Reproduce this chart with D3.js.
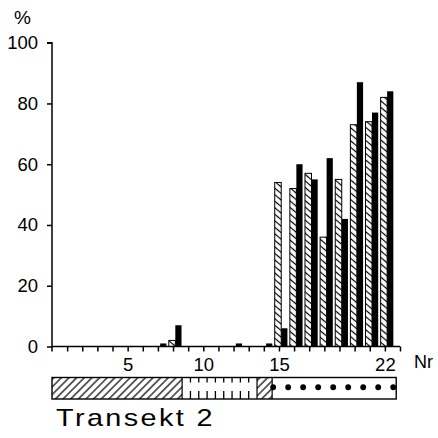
<!DOCTYPE html>
<html>
<head>
<meta charset="utf-8">
<script src="https://cdn.jsdelivr.net/npm/d3@7"></script>
<style>
  html, body { margin: 0; padding: 0; background: #fff; }
  svg { display: block; }
  text { font-family: "Liberation Sans", Arial, sans-serif; fill: #000; }
</style>
</head>
<body>
<svg id="chart" width="438" height="438"></svg>
<script>
// Station numbers along the transect
const stations = d3.range(1, 23);
// Percent values per station: hatched series and solid series
const hatchedValues = [0, 0, 0, 0, 0, 0, 0, 2, 0, 0, 0, 0, 0, 0, 54, 52, 57, 36, 55, 73, 74, 82];
const solidValues   = [0, 0, 0, 0, 0, 0, 1, 7, 0, 0, 0, 1, 0, 1, 6, 60, 55, 62, 42, 87, 77, 84];
// Axis tick labels
const yTicks = [0, 20, 40, 60, 80, 100];
const xTickLabels = [5, 10, 15, 22];
// Zones of the transect strip (in station units)
const zoneStarts = [0, 8.6, 13.55, 14.55];
const zoneEnds   = [8.6, 13.55, 14.55, 22.75];
const zoneKinds  = ["hatch", "ruler", "hatch", "dots"];

const svg = d3.select("#chart");
const x = d3.scaleLinear().domain([0, 23]).range([52, 400]);
const y = d3.scaleLinear().domain([0, 100]).range([346.5, 42.7]);

const defs = svg.append("defs");
// Back-slash hatching for the bars
const pBar = defs.append("pattern")
  .attr("id", "barHatch").attr("patternUnits", "userSpaceOnUse")
  .attr("width", 6).attr("height", 5).attr("patternTransform", "rotate(40)");
pBar.append("rect").attr("width", 6).attr("height", 5).attr("fill", "#fff");
pBar.append("line").attr("x1", 0).attr("x2", 6).attr("y1", 2.5).attr("y2", 2.5)
  .attr("stroke", "#000").attr("stroke-width", 1.2);
// Forward-slash hatching for the strip
const pStrip = defs.append("pattern")
  .attr("id", "stripHatch").attr("patternUnits", "userSpaceOnUse")
  .attr("width", 8).attr("height", 5.4).attr("patternTransform", "rotate(-45)");
pStrip.append("rect").attr("width", 8).attr("height", 5.4).attr("fill", "#fff");
pStrip.append("line").attr("x1", 0).attr("x2", 8).attr("y1", 2.7).attr("y2", 2.7)
  .attr("stroke", "#000").attr("stroke-width", 1.2);

// Bars
const g = svg.append("g");
stations.forEach((n, i) => {
  const hv = hatchedValues[i], sv = solidValues[i];
  if (hv > 0) {
    g.append("rect")
      .attr("x", x(n - 0.28)).attr("width", x(n + 0.15) - x(n - 0.28))
      .attr("y", y(hv)).attr("height", y(0) - y(hv))
      .attr("fill", "url(#barHatch)").attr("stroke", "#000").attr("stroke-width", 1);
  }
  if (sv > 0) {
    g.append("rect")
      .attr("x", x(n + 0.15)).attr("width", x(n + 0.56) - x(n + 0.15))
      .attr("y", y(sv)).attr("height", y(0) - y(sv))
      .attr("fill", "#000");
  }
});

// Y axis
const yAxis = svg.append("g").attr("transform", `translate(${x(0)},0)`)
  .call(d3.axisLeft(y).tickValues(yTicks).tickSize(5).tickPadding(9).tickFormat(d3.format("d")));
yAxis.select(".domain").attr("d", `M-5,${y(100)}H0V${y(0) + 5}`).attr("stroke-width", 1.5);
yAxis.selectAll(".tick line").attr("stroke-width", 1.5);
yAxis.selectAll("text").attr("font-size", 18.5).attr("font-family", "Liberation Sans, Arial, sans-serif");

// X axis
const xAxis = svg.append("g").attr("transform", `translate(0,${y(0)})`)
  .call(d3.axisBottom(x).tickValues(d3.range(1, 24)).tickSize(5).tickPadding(6)
    .tickFormat(d => xTickLabels.includes(d) ? d : ""));
xAxis.select(".domain").attr("d", `M${x(0)},0H${x(23)}`).attr("stroke-width", 1.5);
xAxis.selectAll(".tick line").attr("stroke-width", 1.5);
xAxis.selectAll("text").attr("font-size", 18.5).attr("font-family", "Liberation Sans, Arial, sans-serif");

// Axis titles
svg.append("text").attr("x", 14).attr("y", 24).attr("font-size", 19).text("%");
svg.append("text").attr("x", 414).attr("y", 368).attr("font-size", 18).text("Nr");

// Transect strip
const stripTop = 377.5, stripH = 21.5;
const strip = svg.append("g");
zoneKinds.forEach((kind, i) => {
  const x0 = x(zoneStarts[i]), x1 = x(zoneEnds[i]);
  if (kind === "hatch") {
    strip.append("rect").attr("x", x0).attr("y", stripTop).attr("width", x1 - x0).attr("height", stripH)
      .attr("fill", "url(#stripHatch)");
  } else if (kind === "ruler") {
    const step = (x1 - x0) / 9;
    d3.range(1, 9).forEach(k => {
      const xx = x0 + step * k;
      strip.append("line").attr("x1", xx).attr("x2", xx).attr("y1", stripTop).attr("y2", stripTop + 5)
        .attr("stroke", "#000").attr("stroke-width", 1.3);
      strip.append("line").attr("x1", xx).attr("x2", xx).attr("y1", stripTop + stripH - 8).attr("y2", stripTop + stripH)
        .attr("stroke", "#000").attr("stroke-width", 1.3);
    });
  } else if (kind === "dots") {
    const n = 9, step = (x1 - x0 - 4) / (n - 1);
    d3.range(n).forEach(k => {
      strip.append("circle").attr("cx", x0 + 1 + step * k).attr("cy", stripTop + stripH / 2 - 1)
        .attr("r", 2.9).attr("fill", "#000");
    });
  }
  if (i > 0) {
    strip.append("line").attr("x1", x0).attr("x2", x0).attr("y1", stripTop).attr("y2", stripTop + stripH)
      .attr("stroke", "#000").attr("stroke-width", 1.2);
  }
});
strip.append("rect").attr("x", x(zoneStarts[0])).attr("y", stripTop)
  .attr("width", x(zoneEnds[zoneEnds.length - 1]) - x(zoneStarts[0])).attr("height", stripH)
  .attr("fill", "none").attr("stroke", "#000").attr("stroke-width", 1.4);

// Transect title, drawn slightly widened
svg.append("text").attr("transform", "translate(56,426) scale(1.2,1)")
  .attr("font-size", 24).attr("font-family", "DejaVu Sans, sans-serif")
  .attr("letter-spacing", 2).text("Transekt 2");
</script>
</body>
</html>
